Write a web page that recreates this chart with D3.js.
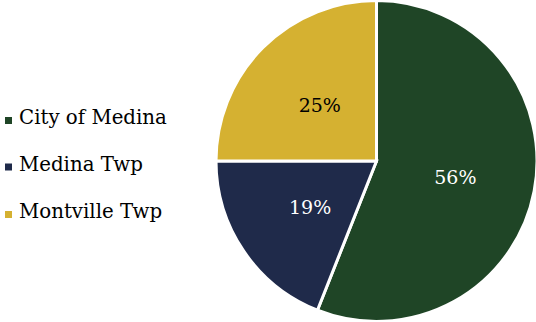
<!DOCTYPE html>
<html>
<head>
<meta charset="utf-8">
<script src="https://cdn.jsdelivr.net/npm/d3@7"></script>
<style>
  html, body { margin: 0; padding: 0; background: #fff; }
  svg { display: block; }
</style>
</head>
<body>
<svg id="chart" width="536" height="322"></svg>
<script>
// Share of residents by municipality
const categories = ["City of Medina", "Medina Twp", "Montville Twp"];
const shares = [56, 19, 25];
const colors = ["#1f4526", "#1f2a4a", "#d5b131"];
const labelColors = ["#ffffff", "#ffffff", "#000000"];

const FONT = "'DejaVu Serif', serif";

const svg = d3.select("#chart");

const cx = 376.5, cy = 161, radius = 160.5;

const pie = d3.pie().sort(null).value(d => d.value);
const arcs = pie(categories.map((c, i) => ({ name: c, value: shares[i], i })));

const arc = d3.arc().innerRadius(0).outerRadius(radius);

const g = svg.append("g").attr("transform", `translate(${cx},${cy})`);

g.selectAll("path.slice")
  .data(arcs)
  .join("path")
  .attr("class", "slice")
  .attr("d", arc)
  .attr("fill", d => colors[d.data.i])
  .attr("stroke", "#ffffff")
  .attr("stroke-width", 3)
  .attr("stroke-linejoin", "miter");

g.selectAll("text.pct")
  .data(arcs)
  .join("text")
  .attr("class", "pct")
  .attr("transform", d => {
    const [x, y] = arc.centroid(d);
    return `translate(${x},${y})`;
  })
  .attr("text-anchor", "middle")
  .attr("dy", "0.42em")
  .style("font-family", FONT)
  .attr("font-size", 19)
  .attr("fill", d => labelColors[d.data.i])
  .text(d => d.data.value + "%");

// Legend
const legendBaselines = [124, 170.5, 218];
const items = svg.append("g").selectAll("g.item")
  .data(categories)
  .join("g")
  .attr("class", "item")
  .attr("transform", (d, i) => `translate(0,${legendBaselines[i]})`);

items.append("rect")
  .attr("x", 5)
  .attr("y", -7)
  .attr("width", 7)
  .attr("height", 7)
  .attr("fill", (d, i) => colors[i]);

items.append("text")
  .attr("x", 19)
  .attr("y", 0)
  .style("font-family", FONT)
  .attr("font-size", 19.8)
  .attr("fill", "#000")
  .text(d => d);
</script>
</body>
</html>
